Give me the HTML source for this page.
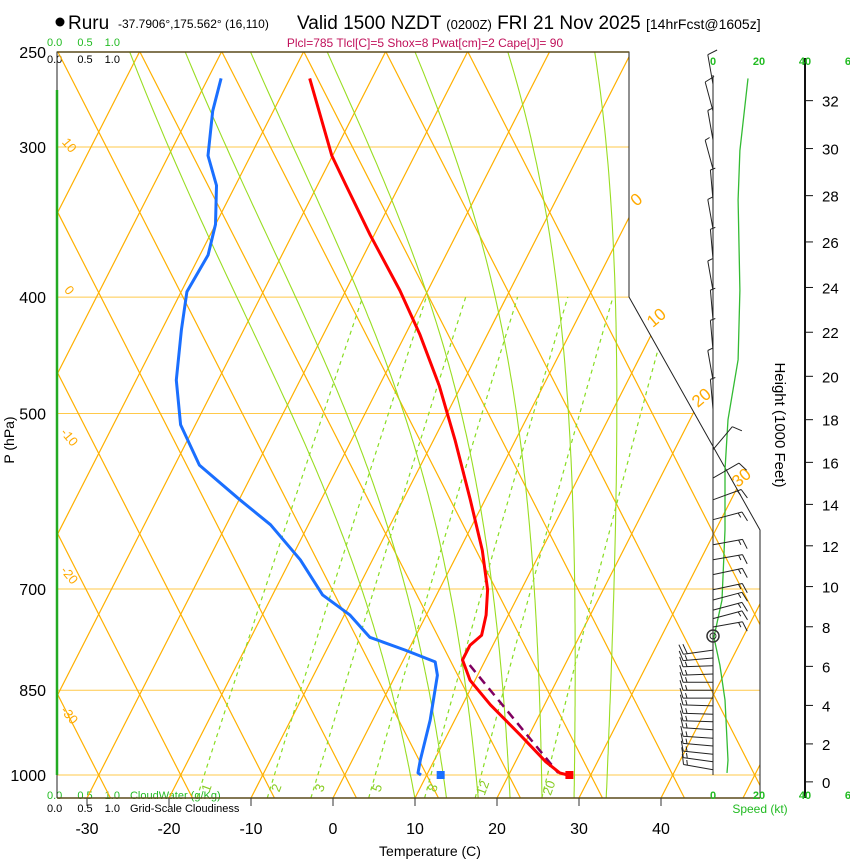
<!DOCTYPE html>
<html><head><meta charset="utf-8">
<style>
html,body{margin:0;padding:0;background:#fff;}
svg{display:block;font-family:"Liberation Sans",Arial,sans-serif;}
</style></head>
<body>
<svg id="chart" width="850" height="860" viewBox="0 0 850 860" xmlns="http://www.w3.org/2000/svg">
<defs>
<clipPath id="plotclip"><polygon points="57,52 629,52 629,297 760,530 760,798 57,798"/></clipPath>
</defs>
<g>
<circle cx="60" cy="22" r="4.5" fill="#000"/>
<text x="68" y="29" font-size="19">Ruru</text>
<text x="118" y="28" font-size="12">-37.7906°,175.562° (16,110)</text>
<text x="297" y="29" font-size="19">Valid 1500 NZDT <tspan font-size="13">(0200Z)</tspan> FRI 21 Nov 2025 <tspan font-size="14">[14hrFcst@1605z]</tspan></text>
<text x="425" y="47" font-size="12" fill="#c0105a" text-anchor="middle">Plcl=785 Tlcl[C]=5 Shox=8 Pwat[cm]=2 Cape[J]= 90</text>
<text x="47" y="46" font-size="11" fill="#22bb22">0.0 <tspan dx="12">0.5</tspan><tspan dx="12">1.0</tspan></text>
<text x="47" y="63" font-size="11" fill="#000">0.0 <tspan dx="12">0.5</tspan><tspan dx="12">1.0</tspan></text>
<text x="47" y="799" font-size="11" fill="#22bb22">0.0 <tspan dx="12">0.5</tspan><tspan dx="12">1.0</tspan><tspan dx="10">CloudWater (g/Kg)</tspan></text>
<text x="47" y="812" font-size="11" fill="#000">0.0 <tspan dx="12">0.5</tspan><tspan dx="12">1.0</tspan><tspan dx="10">Grid-Scale Cloudiness</tspan></text>
</g>
<g id="grid" clip-path="url(#plotclip)"></g>
<g id="marks"></g>
<g id="axes"></g>
<g id="wind"></g>
</svg>
<script>
// ---- data ----
const tempP = [263,305,323,355,395,430,474,526,590,650,701,736,765,780,802,834,874,926,975,996,1000];
const tempT = [-47.6,-40.1,-36.5,-30.5,-23.4,-18.2,-12.7,-7.4,-1.8,2.8,5.9,7.3,8.0,7.2,7.2,9.4,13.4,18.9,23.7,26.1,27.2];
const dewP = [263,280,305,323,348,369,396,426,469,511,552,590,619,662,708,736,768,787,805,826,900,972,996,1000];
const dewT = [-58.4,-57.4,-55.2,-52.3,-50.0,-49.0,-49.3,-47.6,-45.1,-41.8,-37.0,-29.9,-24.6,-18.8,-13.9,-9.3,-5.5,-0.4,4.0,5.1,7.0,8.3,8.8,9.3];
const parcelP = [810,996];
const parcelT = [8.4,25.9];
const sfcT = 27.4, sfcTd = 11.7;
const tempTicks = [-30,-20,-10,0,10,20,30,40];
const pressTicks = [250,300,400,500,700,850,1000];
const mixRatios = [1,2,3,5,8,12,20];
const moistThetaW = [8,12,16,20,24,28,32];
const heightTicks = [0,2,4,6,8,10,12,14,16,18,20,22,24,26,28,30,32];
const speedTicks = [0,20,40,60];
const speedP = [263,302,332,395,451,506,557,625,715,768,810,866,972,996];
const speedKt = [15.2,11.7,10.9,11.7,10.9,6.5,5.2,5.2,3.9,0.4,3.0,5.2,6.5,6.1];
const barbP = [266,280,296,313,332,351,372,395,418,443,469,496,536,566,590,613,643,662,681,701,715,729,741,753,787,799,811,824,837,850,863,876,890,903,917,932,946,961,975,990];
const barbDir = [350,345,350,345,355,350,355,350,355,355,350,355,40,60,70,75,80,80,78,78,75,75,75,80,262,265,268,268,270,270,270,272,272,272,274,274,275,276,278,280];
const barbSpd = [10,10,5,5,5,5,5,5,5,5,5,5,10,10,15,15,15,15,15,15,15,15,15,15,20,15,15,15,15,15,15,15,15,15,15,15,15,15,15,15];

// ---- axis functions ----
const NS='http://www.w3.org/2000/svg';
function Y(p){return 775-521.6*Math.log(1000/p);}
function X(T,p){return 333+8.2*T+0.51*(798-Y(p));}
function XY(T,y){return 333+8.2*T+0.51*(798-y);}
function mk(tag,attrs,parent){const e=document.createElementNS(NS,tag);for(const k in attrs)e.setAttribute(k,attrs[k]);parent.appendChild(e);return e;}
const grid=document.getElementById('grid'),marks=document.getElementById('marks'),axes=document.getElementById('axes'),wind=document.getElementById('wind');

// horizontal pressure lines
pressTicks.forEach(p=>{
  const l=mk('line',{x1:57,x2:800,y1:Y(p),y2:Y(p),stroke:'#ffc94a','stroke-width':1},grid);
  
  
});
// isotherms and dry adiabats (straight)
for(let T=-120;T<=60;T+=10){
  const x0=XY(T,798),x1=XY(T,52);
  const l=mk('line',{x1:x0,y1:798,x2:x1,y2:52,stroke:'#ffb000','stroke-width':1.2},grid);
  
  
  const c=XY(T,775)+11.7;
  const a=mk('line',{x1:c,y1:798,x2:c-0.51*746,y2:52,stroke:'#ffb000','stroke-width':1.2},grid);
  
  
}
// mixing ratio lines
function tdFromW(w,p){const e=w*p/(622+w);const L=Math.log(e/6.112);return 243.5*L/(17.67-L);}
mixRatios.forEach(w=>{
  const pts=[];for(let p=1045;p>=400;p-=15)pts.push(X(tdFromW(w,p),p).toFixed(1)+','+Y(p).toFixed(1));
  const l=mk('polyline',{points:pts.join(' '),fill:'none',stroke:'#88dd22','stroke-width':1.2,'stroke-dasharray':'4,4'},grid);
  
  
  const xl=X(tdFromW(w,985),985);
  const t=mk('text',{x:xl,y:792,'font-size':13,fill:'#88cc22','text-anchor':'middle',transform:'rotate(-70 '+xl+' 788)'},axes);
  t.textContent=w;
  
  
});
// moist adiabats
function es(T){return 6.112*Math.exp(17.67*T/(T+243.5));}
moistThetaW.forEach(tw=>{
  let T=tw,pts=[];
  // go down to 1045 first
  let Td=T;for(let p=1000;p<1045;p+=5){const Tk=Td+273.15,rs=0.622*es(Td)/(p-es(Td));Td+=5*(287*Tk+2.5e6*rs)/(p*(1005+2.5e6*2.5e6*rs*0.622/(287*Tk*Tk)));}
  T=Td;
  for(let p=1045;p>=250;p-=5){
    pts.push(X(T,p).toFixed(1)+','+Y(p).toFixed(1));
    const Tk=T+273.15,rs=0.622*es(T)/(p-es(T));
    T-=5*(287*Tk+2.5e6*rs)/(p*(1005+2.5e6*2.5e6*rs*0.622/(287*Tk*Tk)));
  }
  const l=mk('polyline',{points:pts.join(' '),fill:'none',stroke:'#99dd22','stroke-width':1.1},grid);
  
  
});
// profiles
function line(P,T,attrs,name){
  const pts=P.map((p,i)=>X(T[i],p).toFixed(1)+','+Y(p).toFixed(1)).join(' ');
  const l=mk('polyline',Object.assign({points:pts,fill:'none'},attrs),marks);
  
  
}
line(parcelP,parcelT,{stroke:'#800060','stroke-width':2.5,'stroke-dasharray':'9,6'},'parcel-path');
line(dewP,dewT,{stroke:'#1a6fff','stroke-width':3,'stroke-linejoin':'round'},'dewpoint-line');
line(tempP,tempT,{stroke:'#ff0000','stroke-width':3,'stroke-linejoin':'round'},'temperature-line');
let d=mk('rect',{x:X(sfcT,1000)-4,y:Y(1000)-4,width:8,height:8,fill:'#ff0000'},marks);


d=mk('rect',{x:X(sfcTd,1000)-4,y:Y(1000)-4,width:8,height:8,fill:'#1a6fff'},marks);



// frame
let f=mk('polyline',{points:'57,798 57,52 629,52 629,297 760,530 760,798',fill:'none',stroke:'#222','stroke-width':1},axes);


f=mk('line',{x1:57,y1:52,x2:629,y2:52,stroke:'#5a4a1a','stroke-width':1.5},axes);


f=mk('line',{x1:57,y1:798,x2:760,y2:798,stroke:'#5a4a1a','stroke-width':1.5},axes);


f=mk('line',{x1:57,y1:90,x2:57,y2:775,stroke:'#22aa22','stroke-width':2.5},axes);


// temperature ticks
tempTicks.forEach(t=>{
  const x=XY(t,798);
  let e=mk('line',{x1:x,x2:x,y1:798,y2:806,stroke:'#333'},axes);
  
  
  e=mk('text',{x:x,y:834,'font-size':16,'text-anchor':'middle'},axes);
  e.textContent=t;
  
  
});
let tl=mk('text',{x:430,y:856,'font-size':14,'text-anchor':'middle'},axes);
tl.textContent='Temperature (C)';


pressTicks.forEach(p=>{
  const e=mk('text',{x:46,y:Y(p)+6,'font-size':16,'text-anchor':'end'},axes);
  e.textContent=p;
  
  
});
tl=mk('text',{x:14,y:440,'font-size':14,'text-anchor':'middle',transform:'rotate(-90 14 440)'},axes);
tl.textContent='P (hPa)';


// isotherm/adiabat labels
[[640,204,'0'],[660,322,'10'],[705,402,'20'],[745,482,'30']].forEach(a=>{
  const e=mk('text',{x:a[0],y:a[1],'font-size':17,fill:'#ffaa00','text-anchor':'middle',transform:'rotate(-40 '+a[0]+' '+a[1]+')'},axes);
  e.textContent=a[2];
  
  
});
[[66,148,'10'],[66,293,'0'],[66,440,'-10'],[66,578,'-20'],[66,718,'-30']].forEach(a=>{
  const e=mk('text',{x:a[0],y:a[1],'font-size':13,fill:'#ffaa00','text-anchor':'middle',transform:'rotate(50 '+a[0]+' '+a[1]+')'},axes);
  e.textContent=a[2];
  
  
});

// ---- wind panel ----
function SX(s){return 713+2.3*s;}
function hY(h){return Y(1013.25*Math.pow(1-6.8756e-6*h*1000,5.2559));}
let w=mk('line',{x1:713,x2:713,y1:75,y2:775,stroke:'#222','stroke-width':1},wind);


w=mk('line',{x1:805,x2:805,y1:58,y2:798,stroke:'#111','stroke-width':2},wind);


heightTicks.forEach(h=>{
  const y=hY(h);
  let e=mk('line',{x1:805,x2:813,y1:y,y2:y,stroke:'#111'},wind);
  
  
  e=mk('text',{x:822,y:y+6,'font-size':15},wind);
  e.textContent=h;
  
  
});
tl=mk('text',{x:775,y:425,'font-size':15,'text-anchor':'middle',transform:'rotate(90 775 425)'},wind);
tl.textContent='Height (1000 Feet)';


speedTicks.forEach(s=>{
  [65,799].forEach(y=>{
    const e=mk('text',{x:SX(s),y:y,'font-size':11,'font-weight':'bold',fill:'#22bb22','text-anchor':'middle'},wind);
    e.textContent=s;
    
    
  });
});
tl=mk('text',{x:760,y:813,'font-size':12,fill:'#22bb22','text-anchor':'middle'},wind);
tl.textContent='Speed (kt)';


w=mk('polyline',{points:speedP.map((p,i)=>SX(speedKt[i]).toFixed(1)+','+Y(p).toFixed(1)).join(' '),fill:'none',stroke:'#33bb33','stroke-width':1.3},wind);


barbP.forEach((p,i)=>{
  const y=Y(p),r=barbDir[i]*Math.PI/180,L=30;
  const ux=Math.sin(r),uy=-Math.cos(r);
  const ex=713+ux*L,ey=y+uy*L;
  let dstr='M713,'+y.toFixed(1)+' L'+ex.toFixed(1)+','+ey.toFixed(1);
  let s=barbSpd[i],k=0;
  const px=-uy,py=ux; // perpendicular
  while(s>=10){const bx=ex-ux*k*4,by=ey-uy*k*4;dstr+=' M'+bx.toFixed(1)+','+by.toFixed(1)+' l'+((px*10+ux*3)).toFixed(1)+','+((py*10+uy*3)).toFixed(1);s-=10;k++;}
  if(s>=5){const bx=ex-ux*k*4,by=ey-uy*k*4;dstr+=' M'+bx.toFixed(1)+','+by.toFixed(1)+' l'+((px*5+ux*1.5)).toFixed(1)+','+((py*5+uy*1.5)).toFixed(1);}
  const b=mk('path',{d:dstr,fill:'none',stroke:'#222','stroke-width':1},wind);
  
  
});
w=mk('circle',{cx:713,cy:636,r:6,fill:'none',stroke:'#333','stroke-width':1.5},wind);


w=mk('circle',{cx:713,cy:636,r:3,fill:'none',stroke:'#333','stroke-width':1},wind);


</script>
</body></html>
